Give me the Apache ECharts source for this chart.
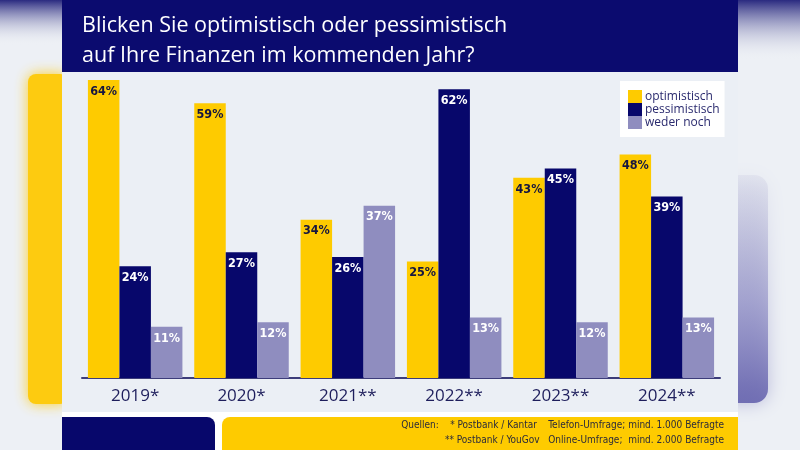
<!DOCTYPE html>
<html>
<head>
<meta charset="utf-8">
<script src="https://cdn.jsdelivr.net/npm/echarts@6/dist/echarts.min.js"></script>
<style>html,body{margin:0;padding:0;background:#edf0f5;}#c{width:800px;height:450px;}</style>
</head>
<body>
<div id="c"></div>
<script>
const categories = ['2019*', '2020*', '2021**', '2022**', '2023**', '2024**'];
const optimistisch = [64, 59, 34, 25, 43, 48];
const pessimistisch = [24, 27, 26, 62, 45, 39];
const wederNoch = [11, 12, 37, 13, 12, 13];
const seriesNames = ['optimistisch', 'pessimistisch', 'weder noch'];
const titleText = 'Blicken Sie optimistisch oder pessimistisch\nauf Ihre Finanzen im kommenden Jahr?';
const sourceLine1 = 'Quellen:    * Postbank / Kantar    Telefon-Umfrage; mind. 1.000 Befragte';
const sourceLine2 = '** Postbank / YouGov   Online-Umfrage;  mind. 2.000 Befragte';

const YEL = '#fecb00', NAVY = '#07076b', LAV = '#8f8dbf';
const labelFont = "'Liberation Sans Narrow','DejaVu Sans Condensed',sans-serif";

const chart = echarts.init(document.getElementById('c'));
function mkLabel(color) {
  return {show: true, position: 'insideTop', distance: 5, formatter: '{c}%',
    color: color, fontFamily: labelFont, fontWeight: 'bold', fontSize: 12.5};
}
chart.setOption({
  backgroundColor: '#edf0f5',
  animation: false,
  graphic: [
    {type: 'rect', z: 0, shape: {x: 0, y: 0, width: 62, height: 45}, style: {fill: new echarts.graphic.LinearGradient(0,0,0,1,[{offset:0,color:'#2a2a80'},{offset:1,color:'rgba(237,240,245,0)'}])}},
    {type: 'rect', z: 0, shape: {x: 738, y: 0, width: 62, height: 60}, style: {fill: new echarts.graphic.LinearGradient(0,0,0,1,[{offset:0,color:'#2a2a80'},{offset:1,color:'rgba(237,240,245,0)'}])}},
    {type: 'rect', z: 0, shape: {x: 28, y: 74, width: 40, height: 330, r: 8}, style: {fill: '#fdcb10', shadowBlur: 14, shadowColor: 'rgba(253,203,16,0.9)'}},
    {type: 'rect', z: 0, shape: {x: 720, y: 175, width: 48, height: 228, r: 14}, style: {fill: new echarts.graphic.LinearGradient(0,0,0,1,[{offset:0,color:'rgba(143,141,191,0.1)'},{offset:0.55,color:'rgba(130,128,190,0.55)'},{offset:1,color:'rgba(95,92,170,0.85)'}]), shadowBlur: 18, shadowColor: 'rgba(110,108,180,0.5)'}},
    {type: 'rect', z: 0, shape: {x: 62, y: 0, width: 676, height: 72}, style: {fill: '#0b0b6f'}},
    {type: 'rect', z: 0, shape: {x: 62, y: 72, width: 676, height: 340}, style: {fill: '#ebeff5'}},
    {type: 'rect', z: 0, shape: {x: 62, y: 412, width: 676, height: 38}, style: {fill: '#ffffff'}},
    {type: 'rect', z: 0, shape: {x: 62, y: 417, width: 153, height: 33, r: [0, 8, 0, 0]}, style: {fill: '#07076b'}},
    {type: 'rect', z: 0, shape: {x: 222, y: 417, width: 516, height: 33, r: [8, 0, 0, 0]}, style: {fill: '#fecb00'}},
    {type: 'text', z: 5, style: {x: 724, y: 425, text: sourceLine1, textAlign: 'right', textVerticalAlign: 'middle', fill: '#2b2b3a', fontSize: 10, fontFamily: labelFont}},
    {type: 'text', z: 5, style: {x: 724, y: 440, text: sourceLine2, textAlign: 'right', textVerticalAlign: 'middle', fill: '#2b2b3a', fontSize: 10, fontFamily: labelFont}}
  ],
  title: {
    text: titleText, left: 77, top: 6,
    textStyle: {color: '#ffffff', fontSize: 21.5, fontWeight: 'normal', fontFamily: "'Open Sans',sans-serif", lineHeight: 30}
  },
  legend: {
    orient: 'vertical', left: 620, top: 81, itemWidth: 14, itemHeight: 13, itemGap: 0,
    icon: 'rect', backgroundColor: '#ffffff', padding: [9, 5, 8, 8],
    data: seriesNames,
    textStyle: {color: '#2a2a6e', fontSize: 12, fontFamily: "'Open Sans',sans-serif", padding: [0, 0, 0, -2]}
  },
  grid: {left: 82, right: 80, top: 80, bottom: 72},
  xAxis: {
    type: 'category', data: categories,
    axisLine: {lineStyle: {color: '#3c3c7a', width: 2}},
    axisTick: {show: false},
    axisLabel: {color: '#1e1e5c', fontSize: 17, margin: 10, fontFamily: "'Open Sans',sans-serif"}
  },
  yAxis: {type: 'value', min: 0, max: 64, show: false, splitLine: {show: false}},
  series: [
    {name: seriesNames[0], type: 'bar', data: optimistisch, barWidth: 31.5, barGap: '0%', itemStyle: {color: YEL}, label: mkLabel('#16163f')},
    {name: seriesNames[1], type: 'bar', data: pessimistisch, barWidth: 31.5, barGap: '0%', itemStyle: {color: NAVY}, label: mkLabel('#ffffff')},
    {name: seriesNames[2], type: 'bar', data: wederNoch, barWidth: 31.5, barGap: '0%', itemStyle: {color: LAV}, label: mkLabel('#ffffff')}
  ]
});
</script>
</body>
</html>
